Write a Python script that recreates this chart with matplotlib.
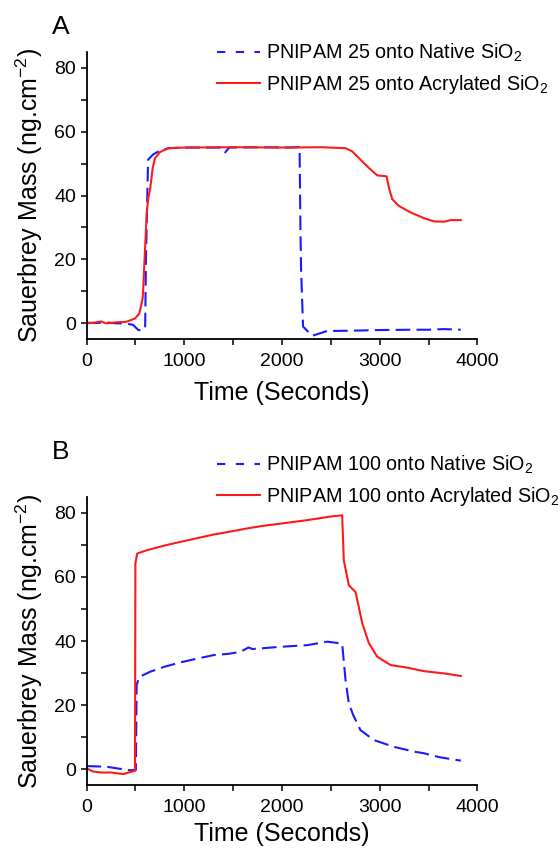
import matplotlib
matplotlib.use("Agg")
import matplotlib.pyplot as plt
from matplotlib.lines import Line2D
from matplotlib.ticker import MultipleLocator

plt.rcParams['font.family'] = ['Liberation Sans', 'DejaVu Sans']
plt.rcParams['mathtext.default'] = 'regular'

# panel A: PNIPAM 25
a_native_t = [0, 100, 200, 300, 400, 478, 530, 564, 600, 608, 630, 680, 735, 838, 1000, 1380,
              1419, 1460, 1800, 2100, 2180, 2189, 2196, 2216, 2309, 2462, 2700, 3000, 3300,
              3500, 3659, 3830]
a_native_v = [0.2, 0.1, 0.3, 0.0, 0.0, -0.5, -2.1, -2.2, -1.5, 20.0, 51.2, 52.8, 53.8, 54.8,
              55.0, 55.0, 53.5, 55.0, 55.1, 55.0, 55.2, 30.0, 16.5, -1.0, -3.9, -2.4, -2.3,
              -2.1, -2.0, -2.0, -1.8, -2.0]

a_acryl_t = [0, 80, 150, 200, 300, 410, 496, 540, 564, 575, 581, 598, 616, 632, 650, 677,
             701, 752, 838, 1000, 1500, 2000, 2400, 2650, 2719, 2804, 2890, 2975, 3071,
             3095, 3129, 3198, 3317, 3454, 3556, 3659, 3727, 3830]
a_acryl_v = [0.0, 0.2, 0.6, 0.0, 0.3, 0.5, 1.5, 3.1, 6.2, 8.0, 11.4, 22.8, 34.2, 39.3, 41.8,
             48.6, 51.7, 53.6, 54.8, 55.0, 55.1, 55.0, 55.1, 54.8, 53.8, 51.2, 48.6, 46.3,
             46.0, 42.4, 38.8, 36.7, 34.7, 32.9, 31.9, 31.8, 32.3, 32.3]

# panel B: PNIPAM 100
b_native_t = [0, 100, 205, 308, 445, 505, 513, 540, 650, 800, 957, 1100, 1299, 1450, 1573,
              1658, 1700, 1983, 2257, 2462, 2616, 2650, 2684, 2729, 2804, 2941, 3146, 3351,
              3454, 3550, 3625, 3830]
b_native_v = [1.0, 0.9, 0.8, 0.3, -0.3, -0.2, 26.3, 28.8, 30.4, 32.0, 33.3, 34.3, 35.6, 36.0,
              36.6, 38.0, 37.5, 38.2, 38.7, 39.8, 39.2, 28.0, 20.6, 16.9, 12.2, 9.1, 7.0,
              5.5, 5.0, 4.2, 3.7, 2.7]

b_acryl_t = [0, 68, 150, 250, 376, 478, 496, 500, 519, 616, 800, 957, 1150, 1299, 1500, 1642,
             1800, 1983, 2257, 2514, 2616, 2633, 2684, 2753, 2822, 2890, 2975, 3112, 3283,
             3454, 3659, 3830]
b_acryl_v = [0.3, -0.7, -1.0, -1.0, -1.5, -0.6, -0.5, 64.2, 67.3, 68.3, 69.8, 70.9, 72.2, 73.2,
             74.3, 75.1, 75.9, 76.6, 77.7, 78.9, 79.2, 65.2, 57.4, 55.3, 45.5, 39.3, 35.1,
             32.5, 31.7, 30.6, 29.9, 29.1]

panels = [
    ("A", a_native_t, a_native_v, a_acryl_t, a_acryl_v,
     "PNIPAM 25 onto Native SiO$_2$", "PNIPAM 25 onto Acrylated SiO$_2$"),
    ("B", b_native_t, b_native_v, b_acryl_t, b_acryl_v,
     "PNIPAM 100 onto Native SiO$_2$", "PNIPAM 100 onto Acrylated SiO$_2$"),
]

fig = plt.figure(figsize=(5.6, 8.5), dpi=100)
axes_rects = [[0.1545, 0.6008, 0.698, 0.3384], [0.1545, 0.0761, 0.698, 0.3395]]
legend_tops = [1 - 42 / 850, 1 - 454 / 850]
letter_y = [1 - 27 / 850, 1 - 452 / 850]
xlabel_pads = [8, 4.5]

for i, (letter, nt, nv, at, av, lab_n, lab_a) in enumerate(panels):
    ax = fig.add_axes(axes_rects[i])
    ax.plot(nt, nv, color='#1a1aff', lw=1.5, linestyle=(0, (7, 3)))
    ax.plot(at, av, color='#ff1a1a', lw=1.5)

    ax.set_xlim(0, 4000)
    ax.set_ylim(-5, 85)
    ax.xaxis.set_major_locator(MultipleLocator(1000))
    ax.xaxis.set_minor_locator(MultipleLocator(500))
    ax.yaxis.set_major_locator(MultipleLocator(20))
    ax.yaxis.set_minor_locator(MultipleLocator(10))
    ax.spines['top'].set_visible(False)
    ax.spines['right'].set_visible(False)
    for s in ('left', 'bottom'):
        ax.spines[s].set_linewidth(1.3)
    ax.tick_params(which='both', direction='out', length=4, width=1.1, labelsize=14)
    ax.tick_params(axis='x', pad=6)
    ax.set_xlabel('Time (Seconds)', fontsize=18, labelpad=xlabel_pads[i])
    ax.set_ylabel('Sauerbrey Mass (ng.cm$^{-2}$)', fontsize=18, labelpad=7)

    handles = [Line2D([], [], color='#1a1aff', lw=1.5, linestyle=(0, (4, 5))),
               Line2D([], [], color='#ff1a1a', lw=1.5)]
    fig.legend(handles, [lab_n, lab_a], loc='upper left',
               bbox_to_anchor=(217 / 560, legend_tops[i]), frameon=False,
               fontsize=14.2, handlelength=2.2, handletextpad=0.3,
               labelspacing=0.42, borderpad=0, borderaxespad=0)
    fig.text(52 / 560, letter_y[i], letter, fontsize=19, va='center', ha='left')

fig.savefig('out.png', dpi=100)
